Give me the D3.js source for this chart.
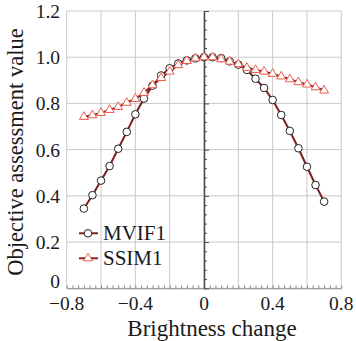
<!DOCTYPE html>
<html>
<head>
<meta charset="utf-8">
<script src="https://cdn.jsdelivr.net/npm/d3@7"></script>
<style>
  body { margin: 0; background: #fff; }
  text { font-family: "Liberation Serif", "DejaVu Serif", serif; fill: #1a1a1a; }
</style>
</head>
<body>
<svg id="chart"></svg>
<script>
const brightness = [-0.70, -0.65, -0.60, -0.55, -0.50, -0.45, -0.40, -0.35, -0.30, -0.25,
  -0.20, -0.15, -0.10, -0.05, 0.00, 0.05, 0.10, 0.15, 0.20, 0.25,
  0.30, 0.35, 0.40, 0.45, 0.50, 0.55, 0.60, 0.65, 0.70];
const mvif1 = [0.345, 0.403, 0.466, 0.529, 0.604, 0.677, 0.753, 0.821, 0.877, 0.921,
  0.952, 0.973, 0.986, 0.995, 1.000, 1.000, 0.996, 0.982, 0.968, 0.945,
  0.907, 0.867, 0.815, 0.750, 0.681, 0.606, 0.526, 0.447, 0.375];
const ssim1 = [0.742, 0.749, 0.759, 0.772, 0.785, 0.803, 0.820, 0.846, 0.879, 0.910,
  0.938, 0.966, 0.984, 0.995, 1.000, 1.000, 0.991, 0.981, 0.970, 0.954,
  0.945, 0.938, 0.928, 0.917, 0.905, 0.892, 0.882, 0.870, 0.856];
const xTicks = [-0.8, -0.4, 0, 0.4, 0.8];
const xTickLabels = ["\u22120.8", "\u22120.4", "0", "0.4", "0.8"];
const yTicks = [0, 0.2, 0.4, 0.6, 0.8, 1.0, 1.2];
const yTickLabels = ["0", "0.2", "0.4", "0.6", "0.8", "1.0", "1.2"];
const seriesNames = ["MVIF1", "SSIM1"];

const W = 356, H = 341;
const plotL = 66.7, plotR = 341.3, plotT = 11, plotB = 288.3;
const lineColor = "#7d1f1f", triColor = "#ef5a4c";

const svg = d3.select("#chart").attr("width", W).attr("height", H);

const x = d3.scaleLinear().domain([-0.8, 0.8]).range([plotL, plotR]);
const y = d3.scaleLinear().domain([0, 1.2]).range([plotB, plotT]);

// grid
svg.append("g").selectAll("line")
  .data(d3.range(-8, 9, 2).map(d => d / 10))
  .enter().append("line")
  .attr("x1", d => x(d)).attr("x2", d => x(d))
  .attr("y1", plotT).attr("y2", plotB)
  .attr("stroke", "#c9c9c9").attr("stroke-width", 1);
svg.append("g").selectAll("line")
  .data(yTicks)
  .enter().append("line")
  .attr("x1", plotL).attr("x2", plotR)
  .attr("y1", d => y(d)).attr("y2", d => y(d))
  .attr("stroke", "#c9c9c9").attr("stroke-width", 1);

// bottom axis, minor ticks pointing up
svg.append("g")
  .attr("transform", `translate(0,${plotB})`)
  .call(d3.axisBottom(x).tickValues(d3.range(0, 49).map(i => -0.8 + i * 0.2 / 6)).tickSize(-3).tickSizeOuter(0).tickFormat(""))
  .call(g => g.select(".domain").attr("stroke", "#8a8a8a"))
  .call(g => g.selectAll(".tick line").attr("stroke", "#8a8a8a"));

// y axis drawn through x = 0
svg.append("g")
  .attr("transform", `translate(${x(0)},0)`)
  .call(d3.axisRight(y).tickValues(d3.range(0, 31).map(i => i * 0.04)).tickSize(3).tickFormat("").tickSizeOuter(0))
  .call(g => g.select(".domain").attr("stroke", "#4a4a4a").attr("stroke-width", 1.5))
  .call(g => g.selectAll(".tick line").attr("stroke", "#4a4a4a")
    .attr("x2", (d, i) => i % 5 === 0 ? 5 : 3));

// tick labels
svg.append("g").selectAll("text")
  .data(xTicks)
  .enter().append("text")
  .attr("x", d => x(d)).attr("y", 310)
  .attr("text-anchor", "middle")
  .attr("font-size", 19.5)
  .text((d, i) => xTickLabels[i]);
svg.append("g").selectAll("text")
  .data(yTicks)
  .enter().append("text")
  .attr("x", 60).attr("y", d => y(d) + (d === 0 ? 0 : 7))
  .attr("text-anchor", "end")
  .attr("font-size", 19.5)
  .text((d, i) => yTickLabels[i]);

// axis titles
svg.append("text")
  .attr("x", 212).attr("y", 336)
  .attr("text-anchor", "middle")
  .attr("font-size", 23)
  .text("Brightness change");
svg.append("text")
  .attr("transform", "translate(23,152) rotate(-90)")
  .attr("text-anchor", "middle")
  .attr("font-size", 22.5)
  .text("Objective assessment value");

// series
const line = d3.line().x((d, i) => x(brightness[i])).y(d => y(d));
svg.append("path").datum(mvif1).attr("d", line)
  .attr("fill", "none").attr("stroke", lineColor).attr("stroke-width", 2);
svg.append("path").datum(ssim1).attr("d", line)
  .attr("fill", "none").attr("stroke", lineColor).attr("stroke-width", 2);

svg.append("g").selectAll("circle")
  .data(mvif1)
  .enter().append("circle")
  .attr("cx", (d, i) => x(brightness[i])).attr("cy", d => y(d))
  .attr("r", 3.8)
  .attr("fill", "#fff").attr("stroke", "#222").attr("stroke-width", 1);

const tri = d3.symbol().type(d3.symbolTriangle).size(34);
svg.append("g").selectAll("path")
  .data(ssim1)
  .enter().append("path")
  .attr("d", tri)
  .attr("transform", (d, i) => `translate(${x(brightness[i])},${y(d)})`)
  .attr("fill", "#fff").attr("stroke", triColor).attr("stroke-width", 1);

// legend
const legend = svg.append("g");
[233.3, 258.3].forEach((ly, k) => {
  legend.append("line").attr("x1", 79).attr("x2", 98).attr("y1", ly).attr("y2", ly)
    .attr("stroke", lineColor).attr("stroke-width", 2);
  if (k === 0) {
    legend.append("circle").attr("cx", 88).attr("cy", ly).attr("r", 3.8)
      .attr("fill", "#fff").attr("stroke", "#222");
  } else {
    legend.append("path").attr("d", tri).attr("transform", `translate(88,${ly})`)
      .attr("fill", "#fff").attr("stroke", triColor);
  }
  legend.append("text").attr("x", 103).attr("y", ly + 7)
    .attr("font-size", 21)
    .text(seriesNames[k]);
});
</script>
</body>
</html>
